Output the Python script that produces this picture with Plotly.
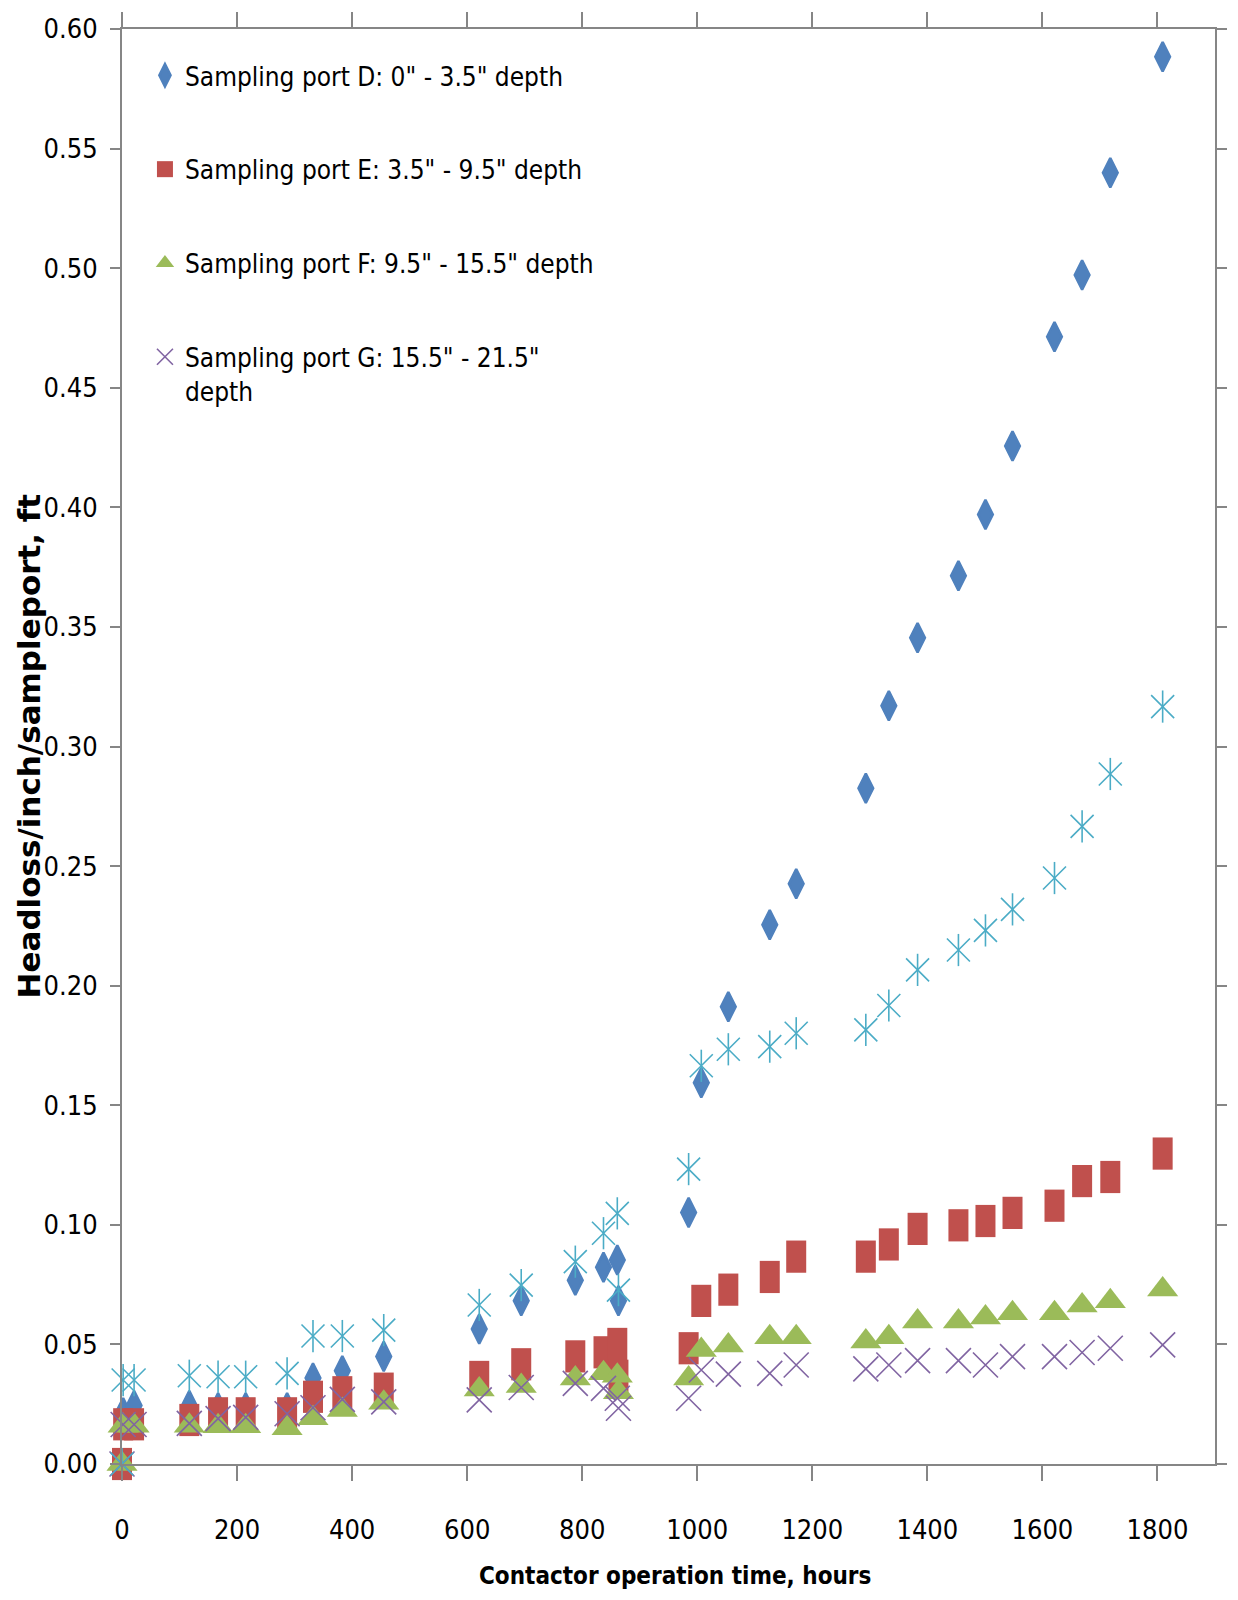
import plotly.graph_objects as go

# Contactor operation time (hours) at each headloss reading
hours = [0, 2, 21, 117, 167, 215, 287, 332, 383, 455, 621, 694, 788, 837, 861, 863,
         985, 1007, 1054, 1126, 1172, 1293, 1333, 1383, 1454, 1501, 1548, 1621, 1669,
         1718, 1809]

# Headloss per inch per sample port (ft)
port_d = [0, 0.0214, 0.0245, 0.0245, 0.0235, 0.0235, 0.0235, 0.036, 0.039, 0.045,
          0.0564, 0.0683, 0.0768, 0.0823, 0.0853, 0.0683, 0.1052, 0.1594, 0.1912,
          0.2255, 0.2426, 0.2825, 0.317, 0.3455, 0.3714, 0.397, 0.4256, 0.4713,
          0.4971, 0.5399, 0.5884]
port_e = [0, 0.0166, 0.0166, 0.0184, 0.0212, 0.0212, 0.0212, 0.0281, 0.030, 0.0315,
          0.0364, 0.0417, 0.045, 0.0467, 0.0502, 0.0369, 0.0484, 0.0682, 0.0729,
          0.0782, 0.0867, 0.0867, 0.0918, 0.0983, 0.0998, 0.1016, 0.105, 0.108,
          0.1183, 0.120, 0.1298]
port_f = [0, 0.016, 0.016, 0.016, 0.0158, 0.0158, 0.015, 0.0191, 0.0226, 0.0256,
          0.0312, 0.0326, 0.0358, 0.0379, 0.0369, 0.030, 0.0358, 0.0477, 0.0495,
          0.053, 0.053, 0.0512, 0.053, 0.0596, 0.0596, 0.0613, 0.063, 0.063,
          0.0663, 0.0681, 0.073]
port_g = [0, 0.0165, 0.0165, 0.017, 0.019, 0.0195, 0.021, 0.0235, 0.027, 0.026,
          0.0268, 0.032, 0.0337, 0.0316, 0.0275, 0.0233, 0.0275, 0.0393, 0.0376,
          0.0379, 0.0414, 0.0398, 0.0414, 0.0432, 0.0432, 0.0414, 0.0449, 0.0449,
          0.0466, 0.0484, 0.0498]
series5 = [0, 0.0351, 0.0351, 0.0369, 0.0365, 0.0365, 0.0379, 0.0535, 0.0535, 0.056,
           0.0665, 0.0748, 0.0846, 0.0965, 0.1048, 0.0727, 0.1233, 0.1665, 0.1734,
           0.1745, 0.1801, 0.1815, 0.1917, 0.2066, 0.2149, 0.2231, 0.2319, 0.245,
           0.2666, 0.2885, 0.3167]

names = [
    'Sampling port D: 0" - 3.5" depth',
    'Sampling port E: 3.5" - 9.5" depth',
    'Sampling port F: 9.5" - 15.5" depth',
    'Sampling port G: 15.5" - 21.5"<br>depth',
]

BLUE, RED, GREEN, PURPLE, CYAN = "#4F81BD", "#C0504D", "#9BBB59", "#8064A2", "#4BACC6"
AXIS = "#868686"
NARROW = "DejaVu Sans Condensed, Liberation Sans Narrow, Arial Narrow, sans-serif"

fig = go.Figure()

# Port D: tall diamonds
fig.add_trace(go.Scatter(
    x=hours, y=port_d, mode="markers", name=names[0], legendgroup="d",
    marker=dict(symbol="diamond-tall", size=21, color=BLUE,
                line=dict(color=BLUE, width=2.5)),
    cliponaxis=False))

# Port E: upright rectangles drawn as thick vertical strokes; legend uses a square
fig.add_trace(go.Scatter(
    x=[None], y=[None], mode="markers", name=names[1], legendgroup="e",
    marker=dict(symbol="square", size=16, color=RED)))
fig.add_trace(go.Scatter(
    x=hours, y=port_e, mode="markers", name=names[1], legendgroup="e",
    showlegend=False,
    marker=dict(symbol="line-ns", size=23, color=RED,
                line=dict(color=RED, width=20)),
    cliponaxis=False))

# Port F: triangles
fig.add_trace(go.Scatter(
    x=hours, y=port_f, mode="markers", name=names[2], legendgroup="f",
    marker=dict(symbol="triangle-up", size=27, color=GREEN),
    cliponaxis=False))

# Port G: thin crosses
fig.add_trace(go.Scatter(
    x=hours, y=port_g, mode="markers", name=names[3], legendgroup="g",
    marker=dict(symbol="x-thin-open", size=25, color=PURPLE,
                line=dict(color=PURPLE, width=1.6)),
    cliponaxis=False))

# Fifth series: star marker (cross plus vertical bar), no legend entry
fig.add_trace(go.Scatter(
    x=hours, y=series5, mode="markers", name="Series 5", legendgroup="s5",
    showlegend=False,
    marker=dict(symbol="x-thin-open", size=23, color=CYAN,
                line=dict(color=CYAN, width=1.6)),
    cliponaxis=False))
fig.add_trace(go.Scatter(
    x=hours, y=series5, mode="markers", name="Series 5", legendgroup="s5",
    showlegend=False,
    marker=dict(symbol="line-ns-open", size=23, color=CYAN,
                line=dict(color=CYAN, width=1.6)),
    cliponaxis=False))

axis_common = dict(
    showline=True, linecolor=AXIS, linewidth=2, mirror="allticks",
    ticks="outside", tickcolor=AXIS, tickwidth=2,
    showgrid=False, zeroline=False,
    tickfont=dict(family=NARROW, size=27, color="#000000"),
)

fig.update_layout(
    width=1238, height=1600,
    margin=dict(l=122, r=11, t=29, b=136, pad=0),
    paper_bgcolor="white", plot_bgcolor="white",
    font=dict(family=NARROW, size=27, color="#000000"),
    showlegend=True,
    legend=dict(
        x=0.021, y=0.984, xanchor="left", yanchor="top",
        bgcolor="rgba(0,0,0,0)", borderwidth=0,
        font=dict(family=NARROW, size=26, color="#000000"),
        tracegroupgap=57, valign="top", itemsizing="trace",
    ),
    xaxis=dict(range=[0, 1900], tick0=0, dtick=200, ticklen=15,
               ticklabelstandoff=26, **axis_common),
    yaxis=dict(range=[0, 0.6], tick0=0, dtick=0.05, tickformat=".2f",
               ticklen=10, ticklabelstandoff=7, **axis_common),
    annotations=[
        dict(text="<b>Contactor operation time, hours</b>",
             xref="paper", yref="paper", x=0.5, y=0,
             xanchor="center", yanchor="middle", yshift=-112, xshift=6,
             showarrow=False,
             font=dict(family=NARROW, size=24, color="#000000")),
        dict(text="<b>Headloss/inch/sampleport, ft</b>",
             xref="paper", yref="paper", x=0, y=0.5,
             xanchor="center", yanchor="middle", xshift=-94,
             textangle=-90, showarrow=False,
             font=dict(family="DejaVu Sans", size=31, color="#000000")),
    ],
)

fig.write_html("out.html")
